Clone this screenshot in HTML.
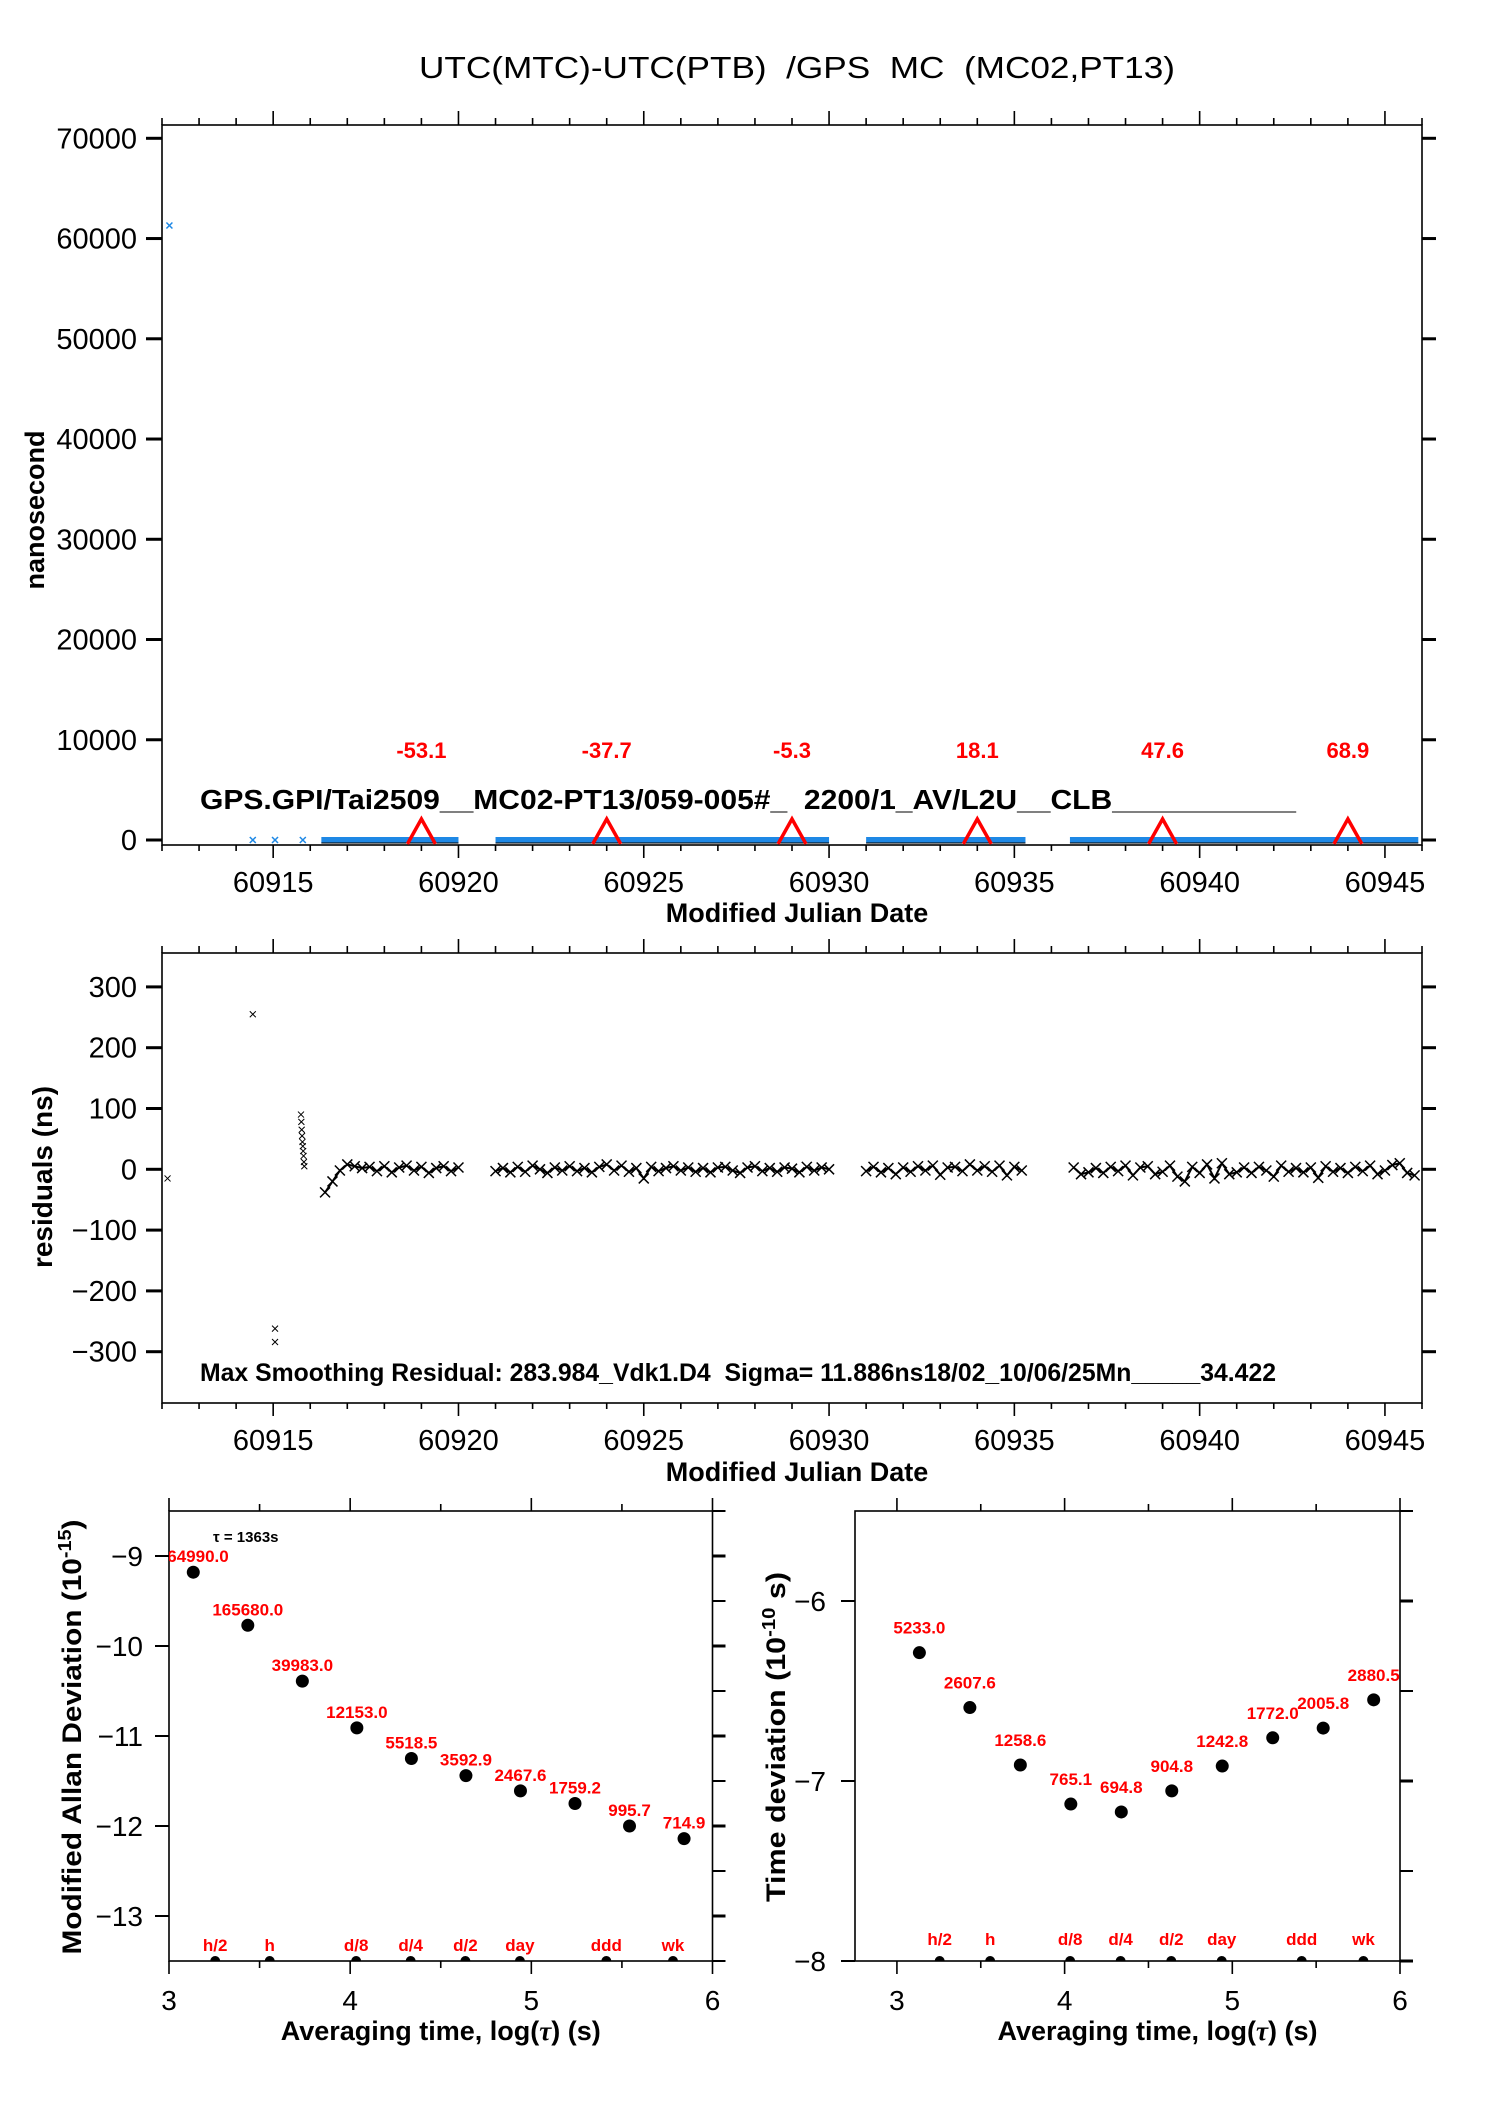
<!DOCTYPE html>
<html><head><meta charset="utf-8"><style>
html,body{margin:0;padding:0;background:#fff;}
svg{display:block;font-family:"Liberation Sans",Arial,sans-serif;}
</style></head><body>
<svg id="c" width="1488" height="2105" viewBox="0 0 1488 2105" xmlns="http://www.w3.org/2000/svg" xml:space="preserve">
<rect x="0" y="0" width="1488" height="2105" fill="#fff"/>
<text x="797" y="78" font-size="31" text-anchor="middle" textLength="756" lengthAdjust="spacingAndGlyphs" style="white-space:pre">UTC(MTC)-UTC(PTB)  /GPS  MC  (MC02,PT13)</text>
<g id="g1"></g>
<g id="g2"></g>
<g id="g3"></g>
<g id="g4"></g>
</svg>
<script>
// ---------- data ----------
const offsetTicks = [0,10000,20000,30000,40000,50000,60000,70000];
const mjdTicks = [60915,60920,60925,60930,60935,60940,60945];
const segStart = [60916.3,60921.0,60931.0,60936.5];
const segEnd = [60920.0,60930.0,60935.3,60945.9];
const segValue = [0,0,0,0];
const outlierMjd = [60912.2,60914.45,60915.05,60915.8];
const outlierVal = [61300,0,0,0];
const markerMjd = [60919,60924,60929,60934,60939,60944];
const markerLabel = ["-53.1","-37.7","-5.3","18.1","47.6","68.9"];

const residTicks = [-300,-200,-100,0,100,200,300];
const resStart = [60916.4,60921.0,60931.0,60936.6];
const resStep = 0.2;
const res1 = [-38,-20,-2,8,5,2,4,-3,5,-5,3,6,-2,4,-6,2,5,-3,3];
const res2 = [-3,2,-5,4,-4,6,0,-6,3,-2,5,-3,2,-5,4,8,-2,6,-4,2,-15,4,-3,2,5,-2,3,-4,2,-5,3,4,-2,-6,3,5,-3,2,-4,3,1,-5,4,-2,3,0];
const res3 = [-3,4,-5,2,-8,3,-4,5,-2,6,-9,3,4,-3,8,-2,5,-4,6,-10,4,-2];
const res4 = [3,-8,-5,2,-6,4,-3,6,-10,3,5,-8,-4,6,-12,-20,4,-6,8,-15,10,-8,-5,3,-6,4,-2,-12,6,-4,2,-5,3,-14,5,-4,2,-6,4,-3,6,-8,-2,7,10,-6,-10];
const resOutMjd = [60912.15,60914.45,60915.05,60915.05,60915.75,60915.76,60915.77,60915.78,60915.79,60915.8,60915.81,60915.82,60915.83,60915.84];
const resOutVal = [-15,255,-262,-284,90,78,65,55,45,38,30,22,12,5];

const logTau = [3.134,3.435,3.736,4.037,4.338,4.639,4.940,5.241,5.542,5.843];
const adevVal = [-9.18,-9.77,-10.39,-10.91,-11.25,-11.44,-11.61,-11.75,-12.0,-12.14];
const adevLabel = ["164990.0","165680.0","39983.0","12153.0","5518.5","3592.9","2467.6","1759.2","995.7","714.9"];
const tdevVal = [-6.287,-6.592,-6.911,-7.128,-7.172,-7.055,-6.917,-6.760,-6.706,-6.549];
const tdevLabel = ["5233.0","2607.6","1258.6","765.1","694.8","904.8","1242.8","1772.0","2005.8","2880.5"];
const periodLog = [3.255,3.556,4.033,4.334,4.636,4.937,5.414,5.782];
const periodLabel = ["h/2","h","d/8","d/4","d/2","day","ddd","wk"];
const adevTicks = [-13,-12,-11,-10,-9];
const tdevTicks = [-8,-7,-6];
const logTicks = [3,4,5,6];

// ---------- helpers ----------
const NS="http://www.w3.org/2000/svg";
function mk(parent, tag, attrs, txt){const e=document.createElementNS(NS,tag);for(const k in attrs)e.setAttribute(k,attrs[k]);if(txt!==undefined)e.textContent=txt;parent.appendChild(e);return e;}
function line(p,x1,y1,x2,y2,w,col){return mk(p,'line',{x1:x1,y1:y1,x2:x2,y2:y2,stroke:col||'#000','stroke-width':w||1.5});}

// ---------- panel 1 ----------
const L=162,R=1422;
const xM = v => L + (v-60912)*(R-L)/34;
const g1=document.getElementById('g1');
const y1 = v => 840 - v*(840-138.3)/70000;
function mjdAxes(g, top, bot, labY, titleY){
  const fr=mk(g,'rect',{x:L,y:top,width:R-L,height:bot-top,fill:'none',stroke:'#000','stroke-width':1.6});
  
  
  for(let d=60912; d<=60946; d++){
    const maj = d%5===0;
    line(g,xM(d),top,xM(d),top-(maj?14:7),1.6);
    line(g,xM(d),bot,xM(d),bot+(maj?13:6),1.6);
  }
  mjdTicks.forEach(d=>{
    const t=mk(g,'text',{x:xM(d),y:labY,'font-size':29,'text-anchor':'middle'},String(d));
    
    
  });
  const xt=mk(g,'text',{x:797,y:titleY,'font-size':27,'font-weight':'bold','text-anchor':'middle'},'Modified Julian Date');
  
  
}
mjdAxes(g1,125,845,892,922);
offsetTicks.forEach(v=>{
  line(g1,L-16,y1(v),L,y1(v),3);
  line(g1,R,y1(v),R+14,y1(v),3);
  const t=mk(g1,'text',{x:137,y:y1(v)+10,'font-size':29,'text-anchor':'end'},String(v));
  
  
});
const yt1=mk(g1,'text',{x:0,y:0,'font-size':27,'font-weight':'bold','text-anchor':'middle',transform:'translate(44,510) rotate(-90)'},'nanosecond');


segStart.forEach((s,i)=>{
  const r=mk(g1,'rect',{x:xM(s),y:y1(segValue[i])-3,width:xM(segEnd[i])-xM(s),height:6,fill:'#1e88e5'});
  
  
  line(g1,xM(s),y1(segValue[i])+3,xM(segEnd[i]),y1(segValue[i])+3,1,'#000');
});
outlierMjd.forEach((m,i)=>{
  const x=xM(m),y=y1(outlierVal[i]);
  const p=mk(g1,'path',{d:`M${x-3},${y-3}L${x+3},${y+3}M${x-3},${y+3}L${x+3},${y-3}`,stroke:'#1e88e5','stroke-width':1.5});
  
  
});
const info1=mk(g1,'text',{x:200,y:809,'font-size':28,'font-weight':'bold',textLength:1096,lengthAdjust:'spacingAndGlyphs',style:'white-space:pre'},'GPS.GPI/Tai2509__MC02-PT13/059-005#_  2200/1_AV/L2U__CLB___________');


markerMjd.forEach((m,i)=>{
  const x=xM(m);
  const tr=mk(g1,'path',{d:`M${x-14},844L${x},819L${x+14},844`,fill:'none',stroke:'#f00','stroke-width':3.5});
  
  
  const t=mk(g1,'text',{x:x,y:758,'font-size':22,'font-weight':'bold',fill:'#f00','text-anchor':'middle'},markerLabel[i]);
  
  
});

// ---------- panel 2 ----------
const g2=document.getElementById('g2');
const y2 = v => 1169.3 - v*60.8/100;
mjdAxes(g2,953,1403,1450,1481);
residTicks.forEach(v=>{
  line(g2,L-16,y2(v),L,y2(v),3);
  line(g2,R,y2(v),R+14,y2(v),3);
  const t=mk(g2,'text',{x:137,y:y2(v)+10,'font-size':29,'text-anchor':'end'},(v<0?'\u2212':'')+Math.abs(v));
  
  
});
const yt2=mk(g2,'text',{x:0,y:0,'font-size':28,'font-weight':'bold','text-anchor':'middle',transform:'translate(52,1177) rotate(-90)'},'residuals (ns)');


function cross(g,x,y,s,w){return mk(g,'path',{d:`M${x-s},${y-s}L${x+s},${y+s}M${x-s},${y+s}L${x+s},${y-s}`,stroke:'#000','stroke-width':w||1});}
[res1,res2,res3,res4].forEach((arr,si)=>{
  const pts=arr.map((v,i)=>[xM(resStart[si]+i*resStep),y2(v)]);
  const pl=mk(g2,'polyline',{points:pts.map(p=>p.join(',')).join(' '),fill:'none',stroke:'#000','stroke-width':2});
  
  
  pts.forEach(p=>{
    const c=cross(g2,p[0],p[1],5,1.5);
    
    
  });
});
resOutMjd.forEach((m,i)=>{
  const c=cross(g2,xM(m),y2(resOutVal[i]),3);
  
  
});
const info2=mk(g2,'text',{x:200,y:1381,'font-size':25,'font-weight':'bold',textLength:1076,lengthAdjust:'spacingAndGlyphs',style:'white-space:pre'},'Max Smoothing Residual: 283.984_Vdk1.D4  Sigma= 11.886ns18/02_10/06/25Mn_____34.422');



// ---------- stability panels ----------
function stabPanel(g, x0, x1, lmin, lmax, top, bot, vmin, vmax, ticks, minorStep, vals, labels, labOff, tickLabX, yTitle, yTitleX, yTitleLen, clipId, perLabY){
  const X = l => x0 + (l-lmin)*(x1-x0)/(lmax-lmin);
  const Y = v => bot - (v-vmin)*(bot-top)/(vmax-vmin);
  const defs=mk(g,'defs',{});
  const cp=mk(defs,'clipPath',{id:clipId});
  mk(cp,'rect',{x:x0,y:top,width:x1-x0,height:bot-top});
  const fr=mk(g,'rect',{x:x0,y:top,width:x1-x0,height:bot-top,fill:'none',stroke:'#000','stroke-width':1.6});
  
  
  for(let l=3; l<=6.001; l+=0.5){
    const maj=Math.abs(l-Math.round(l))<0.01;
    line(g,X(l),top,X(l),top-(maj?13:7),1.6);
    line(g,X(l),bot,X(l),bot+(maj?13:7),1.6);
  }
  logTicks.forEach(l=>{
    const t=mk(g,'text',{x:X(l),y:2010,'font-size':28,'text-anchor':'middle'},String(l));
    
    
  });
  for(let v=vmin; v<=vmax+0.001; v+=minorStep){
    const maj=Math.abs(v-Math.round(v))<0.01;
    line(g,x1,Y(v),x1+13,Y(v),maj?3:2);
    if(maj) line(g,x0-14,Y(v),x0,Y(v),2);
  }
  ticks.forEach(v=>{
    const t=mk(g,'text',{x:tickLabX,y:Y(v)+10,'font-size':28,'text-anchor':'end'},'\u2212'+Math.abs(v));
    
    
  });
  const cg=mk(g,'g',{'clip-path':`url(#${clipId})`});
  vals.forEach((v,i)=>{
    const c=mk(cg,'circle',{cx:X(logTau[i]),cy:Y(v),r:6.5,fill:'#000'});
    
    
    const t=mk(cg,'text',{x:X(logTau[i]),y:Y(v)-labOff,'font-size':17,'font-weight':'bold',fill:'#f00','text-anchor':'middle'},labels[i]);
    
    
  });
  periodLog.forEach((l,i)=>{
    const c=mk(cg,'circle',{cx:X(l),cy:bot,r:5,fill:'#000'});
    
    
    const t=mk(g,'text',{x:X(l),y:perLabY,'font-size':17,'font-weight':'bold',fill:'#f00','text-anchor':'middle'},periodLabel[i]);
    
    
  });
  const xt=mk(g,'text',{x:(x0+x1)/2+(clipId==='ca'?0:30),y:2040,'font-size':27,'font-weight':'bold','text-anchor':'middle'});
  
  
  xt.innerHTML='Averaging time, log(<tspan font-family="Liberation Serif" font-style="italic">\u03c4</tspan>) (s)';
  const yt=mk(g,'text',{x:0,y:0,'font-size':27,'font-weight':'bold','text-anchor':'middle',textLength:yTitleLen,lengthAdjust:'spacingAndGlyphs',transform:`translate(${yTitleX},1737) rotate(-90)`});
  
  
  yt.innerHTML=yTitle;
  return {X,Y};
}
const g3=document.getElementById('g3');
stabPanel(g3,169,712.5,3,6,1511,1961,-13.5,-8.5,adevTicks,0.5,adevVal,adevLabel,10,143,'Modified Allan Deviation (10<tspan dy="-10" font-size="18">-15</tspan><tspan dy="10">)</tspan>',81,435,'ca',1951);
const tau=mk(g3,'text',{x:213,y:1542,'font-size':15,'font-weight':'bold'},'\u03c4 = 1363s');


const g4=document.getElementById('g4');
stabPanel(g4,855,1400,2.75,6,1511,1961,-8,-5.5,tdevTicks,0.5,tdevVal,tdevLabel,19,826,'Time deviation (10<tspan dy="-10" font-size="18">-10</tspan><tspan dy="10"> s)</tspan>',785,330,'ct',1945);
</script>
</body></html>
